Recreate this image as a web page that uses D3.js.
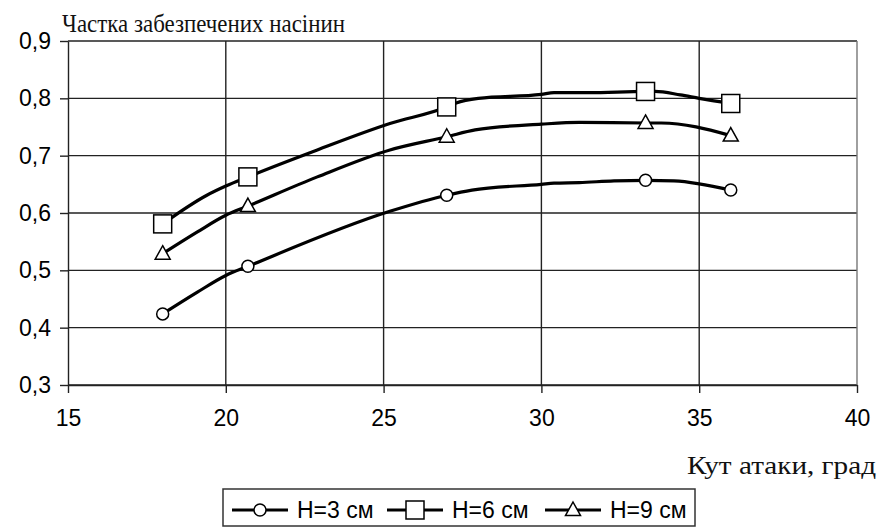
<!DOCTYPE html>
<html>
<head>
<meta charset="utf-8">
<script src="https://cdn.jsdelivr.net/npm/d3@7"></script>
<style>
  html, body { margin: 0; padding: 0; background: #fff; }
  svg { display: block; }
</style>
</head>
<body>
<svg id="chart" width="880" height="528"></svg>
<script>
// Experimental points: angle of attack (deg) and share of seeds provided for
const angles = [18, 20.7, 27, 33.3, 36];
const h3 = [0.424, 0.507, 0.631, 0.657, 0.640];
const h6 = [0.581, 0.663, 0.785, 0.812, 0.791];
const h9 = [0.529, 0.612, 0.733, 0.757, 0.735];

// Vertices of the fitted curves drawn through each series
const h3Curve = [[18, 0.424], [19.1, 0.462], [20, 0.491], [20.7, 0.507], [25.2, 0.603], [27, 0.631], [27.8, 0.640], [30, 0.650], [30.4, 0.652], [31.2, 0.653], [32.3, 0.656], [33.3, 0.657], [34.2, 0.656], [36, 0.640]];
const h6Curve = [[18, 0.581], [19.4, 0.631], [20, 0.647], [20.7, 0.663], [22.9, 0.710], [25.2, 0.756], [27, 0.785], [27.3, 0.792], [28, 0.800], [30, 0.807], [30.4, 0.810], [31.5, 0.810], [33.3, 0.812], [33.6, 0.812], [34.4, 0.806], [35, 0.800], [36, 0.791]];
const h9Curve = [[18, 0.529], [19.1, 0.567], [20, 0.596], [20.7, 0.612], [22.9, 0.663], [25.2, 0.710], [27, 0.733], [27.9, 0.745], [30, 0.755], [31.2, 0.758], [33.3, 0.757], [33.8, 0.757], [36, 0.735]];

const seriesNames = ["H=3 см", "H=6 см", "H=9 см"];
const seriesMarkers = ["circle", "square", "triangle"];
const xTicks = [15, 20, 25, 30, 35, 40];
const yTicks = [0.3, 0.4, 0.5, 0.6, 0.7, 0.8, 0.9];
const yTitle = "Частка забезпечених насінин";
const xTitle = "Кут атаки, град";

const series = [
  { name: seriesNames[0], marker: seriesMarkers[0], values: h3, curve: h3Curve },
  { name: seriesNames[1], marker: seriesMarkers[1], values: h6, curve: h6Curve },
  { name: seriesNames[2], marker: seriesMarkers[2], values: h9, curve: h9Curve }
];

const W = 880, H = 528;
const margin = { top: 41, right: 23, bottom: 143, left: 68 };
const iw = W - margin.left - margin.right;
const ih = H - margin.top - margin.bottom;

const svg = d3.select("#chart");
const g = svg.append("g").attr("transform", `translate(${margin.left},${margin.top})`);

const x = d3.scaleLinear().domain([15, 40]).range([0, iw]);
const y = d3.scaleLinear().domain([0.3, 0.9]).range([ih, 0]);

const sans = "'Liberation Sans', Arial, sans-serif";
const serif = "'Liberation Serif', 'Times New Roman', serif";
const gridColor = "#222";

// Horizontal grid lines
g.append("g").selectAll("line").data(yTicks).join("line")
  .attr("x1", 0).attr("x2", iw)
  .attr("y1", d => y(d)).attr("y2", d => y(d))
  .attr("stroke", gridColor).attr("stroke-width", 1.4);

// Vertical grid lines (the last one closes the plot area in grey)
g.append("g").selectAll("line").data(xTicks.slice(1)).join("line")
  .attr("x1", d => x(d)).attr("x2", d => x(d))
  .attr("y1", 0).attr("y2", ih)
  .attr("stroke", (d, i, n) => i === n.length - 1 ? "#777" : gridColor)
  .attr("stroke-width", 1.4);

// Axes
const fmt = d => d3.format(".1f")(d).replace(".", ",");
const yAxis = g.append("g")
  .call(d3.axisLeft(y).tickValues(yTicks).tickFormat(fmt).tickSizeInner(8).tickSizeOuter(0).tickPadding(9));
const xAxis = g.append("g").attr("transform", `translate(0,${ih})`)
  .call(d3.axisBottom(x).tickValues(xTicks).tickFormat(d3.format("d")).tickSizeInner(8).tickSizeOuter(0).tickPadding(17));
[yAxis, xAxis].forEach(a => {
  a.select(".domain").attr("stroke", gridColor).attr("stroke-width", 1.4);
  a.selectAll(".tick line").attr("stroke", gridColor).attr("stroke-width", 1.4);
  a.selectAll(".tick text").attr("fill", "#000").style("font-family", sans).style("font-size", "23px");
});

// Axis titles
svg.append("text")
  .attr("x", 62).attr("y", 32)
  .attr("textLength", 283).attr("lengthAdjust", "spacingAndGlyphs")
  .style("font-family", serif).style("font-size", "25px").attr("fill", "#111")
  .text(yTitle);
svg.append("text")
  .attr("x", 687).attr("y", 474)
  .attr("textLength", 189).attr("lengthAdjust", "spacingAndGlyphs")
  .style("font-family", serif).style("font-size", "25px").attr("fill", "#111")
  .text(xTitle);

// Marker drawing
function drawMarker(sel, type) {
  if (type === "circle") {
    sel.append("circle").attr("r", 6);
  } else if (type === "square") {
    sel.append("rect").attr("x", -9).attr("y", -9).attr("width", 18).attr("height", 18);
  } else {
    sel.append("path").attr("d", "M0,-8 L7.5,5.5 L-7.5,5.5 Z");
  }
  sel.selectAll("circle,rect,path").attr("fill", "#fff").attr("stroke", "#000").attr("stroke-width", 1.5);
}

const line = d3.line().x(d => x(d[0])).y(d => y(d[1])).curve(d3.curveMonotoneX);

series.forEach(s => {
  g.append("path").datum(s.curve)
    .attr("d", line)
    .attr("fill", "none").attr("stroke", "#000").attr("stroke-width", 3.2)
    .attr("stroke-linejoin", "round");
  g.append("g").selectAll("g").data(s.values).join("g")
    .attr("transform", (d, i) => `translate(${x(angles[i])},${y(d)})`)
    .each(function () { drawMarker(d3.select(this), s.marker); });
});

// Legend
const legend = svg.append("g");
legend.append("rect")
  .attr("x", 223).attr("y", 489).attr("width", 472).attr("height", 37)
  .attr("fill", "#fff").attr("stroke", "#333").attr("stroke-width", 1.5);
const legendX = [232, 387, 545];
series.forEach((s, i) => {
  const item = legend.append("g").attr("transform", `translate(${legendX[i]},510)`);
  item.append("line").attr("x1", 0).attr("x2", 56).attr("y1", 0).attr("y2", 0)
    .attr("stroke", "#000").attr("stroke-width", 3);
  const m = item.append("g").attr("transform", "translate(28,0)");
  drawMarker(m, s.marker);
  item.append("text").attr("x", 65).attr("y", 8)
    .style("font-family", sans).style("font-size", "23px").attr("fill", "#000")
    .text(s.name);
});
</script>
</body>
</html>
